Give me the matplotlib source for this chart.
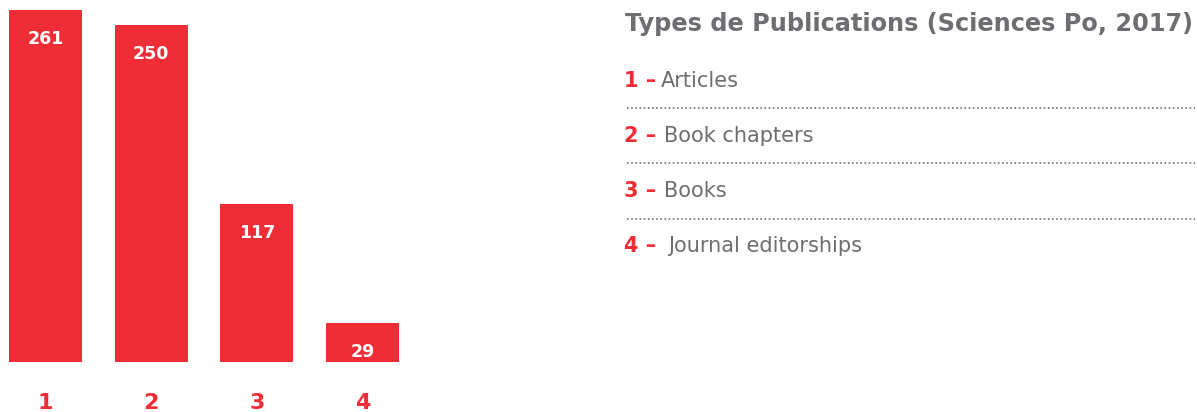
import matplotlib.pyplot as plt
from matplotlib.lines import Line2D

# donnees
numeros = ['1', '2', '3', '4']
valeurs = [261, 250, 117, 29]
types = ['Articles', 'Book chapters', 'Books', 'Journal editorships']
titre = 'Types de Publications (Sciences Po, 2017)'

rouge = '#ee2d36'
gris = '#6d6e71'
W, H = 1197, 412

fig = plt.figure(figsize=(W / 100, H / 100), dpi=100)
# axes en pixels : x 9..399, y 10..362
ax = fig.add_axes([9 / W, 1 - 362 / H, 390 / W, 352 / H])
x = range(len(valeurs))
largeur = 0.69
ax.bar(x, valeurs, width=largeur, color=rouge)
ax.set_xlim(-largeur / 2, len(valeurs) - 1 + largeur / 2)
ax.set_ylim(0, max(valeurs))
for i, v in zip(x, valeurs):
    ax.annotate(str(v), (i, v), xytext=(0, -21), textcoords='offset points',
                ha='center', va='center', color='white', fontsize=12.5, fontweight='bold')
ax.set_xticks(list(x))
ax.set_xticklabels(numeros, color=rouge, fontsize=16, fontweight='bold')
ax.tick_params(axis='x', length=0, pad=22)
ax.set_yticks([])
for s in ax.spines.values():
    s.set_visible(False)

# titre et legende a droite
fig.text(625 / W, 1 - 24 / H, titre, color=gris, fontsize=17.3, fontweight='bold',
         ha='left', va='center')
bases = [87, 142, 197, 252]
x_lab = [661, 664, 664, 668]
for k, (n, t) in enumerate(zip(numeros, types)):
    fig.text(624 / W, 1 - bases[k] / H, n + ' \u2013', color=rouge, fontsize=15,
             fontweight='bold', ha='left', va='baseline')
    fig.text(x_lab[k] / W, 1 - bases[k] / H, t, color=gris, fontsize=15,
             ha='left', va='baseline')
for yl in [108, 163, 219]:
    fig.add_artist(Line2D([627 / W, 1195 / W], [1 - yl / H, 1 - yl / H], color=gris,
                          linestyle=(0, (1, 1.5)), linewidth=1.2))

plt.savefig('out.png', dpi=100)
